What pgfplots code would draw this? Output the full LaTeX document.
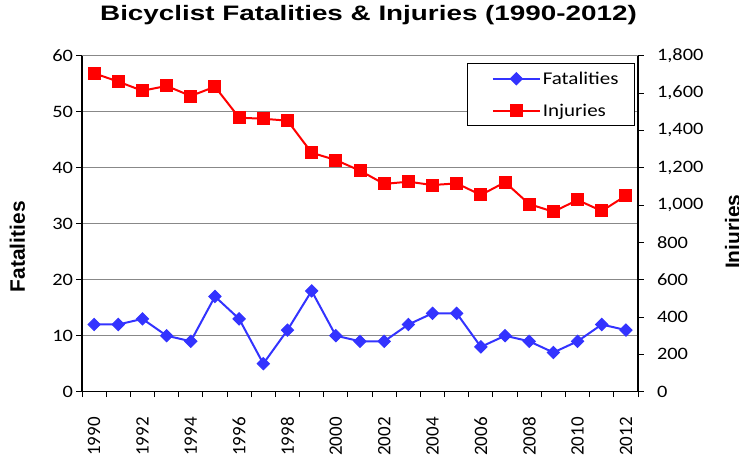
\documentclass[border=0pt]{standalone}
\usepackage{pgfplots}
\pgfplotsset{compat=1.18}
\usepackage{fontspec}
\setmainfont{Carlito}
\newfontfamily\tickfont{Carlito}[FakeStretch=1.17]
\newfontfamily\xtickfont{Carlito}
\newfontfamily\titlefont{Liberation Sans}[FakeStretch=1.33]
\newfontfamily\labelfont{Liberation Sans}
\definecolor{fatblue}{RGB}{51,51,255}
\definecolor{gridgray}{RGB}{136,136,136}
\begin{document}
\begin{tikzpicture}[x=1bp,y=1bp]
\useasboundingbox (-82,-67.3) rectangle (657,391.7);
\pgfplotsset{
  common/.style={
    at={(0,0)}, anchor=south west, scale only axis,
    width=556bp, height=336bp,
    xmin=-0.5, xmax=22.5,
    tick align=outside,
    major tick length=5.5bp, minor tick length=5.5bp,
    every tick/.style={black, line width=1bp},
    axis line style={black, line width=1.2bp},
    /pgf/number format/assume math mode=true,
    /pgf/number format/1000 sep={,},
  },
}
\begin{axis}[common,
  ymin=0, ymax=60,
  axis x line*=bottom, axis y line*=left,
  xtick={0,2,...,22},
  xticklabels={1990,1992,1994,1996,1998,2000,2002,2004,2006,2008,2010,2012},
  minor xtick={-0.5,0.5,...,22.5},
  major x tick style={draw=none},
  xticklabel style={yshift=-20bp, rotate=90, anchor=east, inner sep=0pt, font=\xtickfont\fontsize{19}{21}\selectfont},
  ytick={0,10,...,60},
  yticklabel style={font=\tickfont\fontsize{17.5}{20}\selectfont},
  ymajorgrids,
  grid style={gridgray, line width=1.3bp},
]
\addplot[fatblue, line width=2bp, mark=square*, mark size=4.3bp, mark options={rotate=45, solid, line width=1bp}]
coordinates {(0,12)(1,12)(2,13)(3,10)(4,9)(5,17)(6,13)(7,5)(8,11)(9,18)(10,10)(11,9)(12,9)(13,12)(14,14)(15,14)(16,8)(17,10)(18,9)(19,7)(20,9)(21,12)(22,11)};
\end{axis}
\begin{axis}[common,
  ymin=0, ymax=1800,
  axis x line=none, axis y line*=right,
  ytick={0,200,...,1800},
  yticklabel style={xshift=10bp, font=\tickfont\fontsize{17.5}{20}\selectfont},
  legend style={at={(axis description cs:0.9946,0.9774)}, anchor=north east,
    draw=black, line width=1bp, inner xsep=14bp, inner ysep=6bp,
    font=\tickfont\fontsize{18}{20}\selectfont, row sep=14bp},
  legend cell align=left,
  legend image code/.code={\path (-10bp,0bp); \draw[line width=2bp, mark repeat=2,mark phase=2] plot coordinates {(0bp,0bp)(23.5bp,0bp)(47bp,0bp)};},
]
\addlegendimage{fatblue, line width=2bp, mark=square*, mark size=4.3bp, mark options={rotate=45, solid, line width=1bp}}
\addlegendentry{Fatalities}
\addplot[red, line width=2bp, mark=square*, mark size=6bp, mark options={solid, line width=1bp}]
coordinates {(0,1706)(1,1661)(2,1612)(3,1638)(4,1584)(5,1634)(6,1468)(7,1462)(8,1452)(9,1280)(10,1241)(11,1184)(12,1113)(13,1125)(14,1107)(15,1116)(16,1054)(17,1122)(18,1005)(19,964)(20,1027)(21,968)(22,1050)};
\addlegendentry{Injuries}
\end{axis}
\node[anchor=base, font=\titlefont\bfseries\fontsize{21}{24}\selectfont] at (286.5,371) {Bicyclist Fatalities \& Injuries (1990-2012)};
\node[rotate=90, anchor=base, font=\labelfont\bfseries\fontsize{21}{24}\selectfont] at (-57,145) {Fatalities};
\node[rotate=90, anchor=base, font=\labelfont\bfseries\fontsize{21}{24}\selectfont] at (658,160) {Injuries};
\end{tikzpicture}
\end{document}
